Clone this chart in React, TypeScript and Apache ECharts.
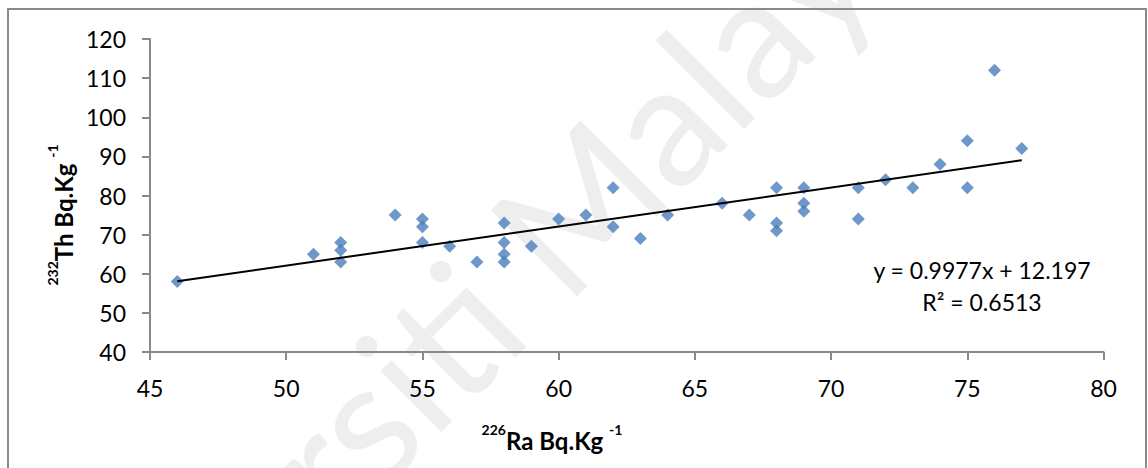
import React, { useEffect, useRef } from "react";
import * as echarts from "echarts";

// 226Ra activity (Bq/kg)
const raValues: number[] = [
  46, 51, 52, 52, 52, 54, 55, 55, 55, 56, 57, 58, 58, 58, 58, 59, 60, 61, 62, 62, 63,
  64, 66, 67, 68, 68, 68, 69, 69, 69, 71, 71, 72, 73, 74, 75, 75, 76, 77,
];
// 232Th activity (Bq/kg)
const thValues: number[] = [
  58, 65, 68, 66, 63, 75, 74, 72, 68, 67, 63, 73, 68, 65, 63, 67, 74, 75, 82, 72, 69,
  75, 78, 75, 82, 73, 71, 82, 78, 76, 82, 74, 84, 82, 88, 94, 82, 112, 92,
];

const xTicks = { min: 45, max: 80, interval: 5 };
const yTicks = { min: 40, max: 120, interval: 10 };

// Trendline coefficients as printed on the chart
const SLOPE = 0.9977;
const INTERCEPT = 12.197;
const equationLines: string[] = ["y = 0.9977x + 12.197", "R² = 0.6513"];

const FONT = "Lato, 'Open Sans', sans-serif";

export default function App() {
  const ref = useRef<HTMLDivElement>(null);

  useEffect(() => {
    if (!ref.current) return;
    const chart = echarts.init(ref.current, undefined, { renderer: "svg" });

    const points = raValues.map((x, i) => [x, thValues[i]]);
    const xMin = Math.min(...raValues);
    const xMax = Math.max(...raValues);
    const trend = [
      [xMin, SLOPE * xMin + INTERCEPT],
      [xMax, SLOPE * xMax + INTERCEPT],
    ];

    const titleRich = {
      b: { fontFamily: FONT, fontSize: 24, fontWeight: "bold", color: "#000", lineHeight: 30, verticalAlign: "bottom" },
      s: { fontFamily: FONT, fontSize: 14, fontWeight: "bold", color: "#000", lineHeight: 20, verticalAlign: "top" },
    };

    chart.setOption({
      animation: false,
      backgroundColor: "#ffffff",
      grid: { left: 150, right: 44.5, top: 39, bottom: 116, containLabel: false },
      xAxis: {
        type: "value",
        min: xTicks.min,
        max: xTicks.max,
        interval: xTicks.interval,
        splitLine: { show: false },
        axisLine: { show: true, onZero: false, lineStyle: { color: "#898989", width: 2 } },
        axisTick: { show: true, inside: false, length: 8, lineStyle: { color: "#898989", width: 2 } },
        axisLabel: { fontFamily: FONT, fontSize: 23, color: "#000", margin: 24 },
      },
      yAxis: {
        type: "value",
        min: yTicks.min,
        max: yTicks.max,
        interval: yTicks.interval,
        splitLine: { show: false },
        axisLine: { show: true, onZero: false, lineStyle: { color: "#898989", width: 2 } },
        axisTick: { show: true, inside: false, length: 8, lineStyle: { color: "#898989", width: 2 } },
        axisLabel: { fontFamily: FONT, fontSize: 23, color: "#000", margin: 24 },
      },
      graphic: [
        {
          type: "text",
          x: 440,
          y: 340,
          rotation: Math.PI / 4,
          z: -100,
          silent: true,
          style: {
            text: "Universiti Malaya",
            fontFamily: FONT,
            fontSize: 170,
            fill: "#eeeeee",
            align: "center",
            verticalAlign: "middle",
          },
        },
        {
          type: "rect",
          z: 100,
          silent: true,
          shape: { x: 8, y: 9, width: 1138, height: 480 },
          style: { fill: "none", stroke: "#8a8a8a", lineWidth: 2 },
        },
        {
          type: "text",
          x: 552,
          y: 437,
          z: 100,
          style: {
            text: "{s|226}{b|Ra Bq.Kg }{s|-1}",
            rich: titleRich,
            align: "center",
            verticalAlign: "middle",
          },
        },
        {
          type: "text",
          x: 60,
          y: 215,
          rotation: Math.PI / 2,
          z: 100,
          style: {
            text: "{s|232}{b|Th Bq.Kg }{s|-1}",
            rich: titleRich,
            align: "center",
            verticalAlign: "middle",
          },
        },
        {
          type: "text",
          x: 982,
          y: 286,
          z: 100,
          style: {
            text: equationLines.join("\n"),
            fontFamily: FONT,
            fontSize: 23,
            lineHeight: 32,
            fill: "#000",
            align: "center",
            verticalAlign: "middle",
          },
        },
      ],
      series: [
        {
          type: "scatter",
          data: points,
          symbol: "diamond",
          symbolSize: 13,
          itemStyle: { color: "#4a7ebb" },
          z: 3,
        },
        {
          type: "line",
          data: trend,
          showSymbol: false,
          symbol: "none",
          lineStyle: { color: "#000", width: 2 },
          z: 4,
        },
      ],
    });

    return () => chart.dispose();
  }, []);

  return (
    <div
      ref={ref}
      style={{ position: "fixed", left: 0, top: 0, width: 1148, height: 468 }}
    />
  );
}
